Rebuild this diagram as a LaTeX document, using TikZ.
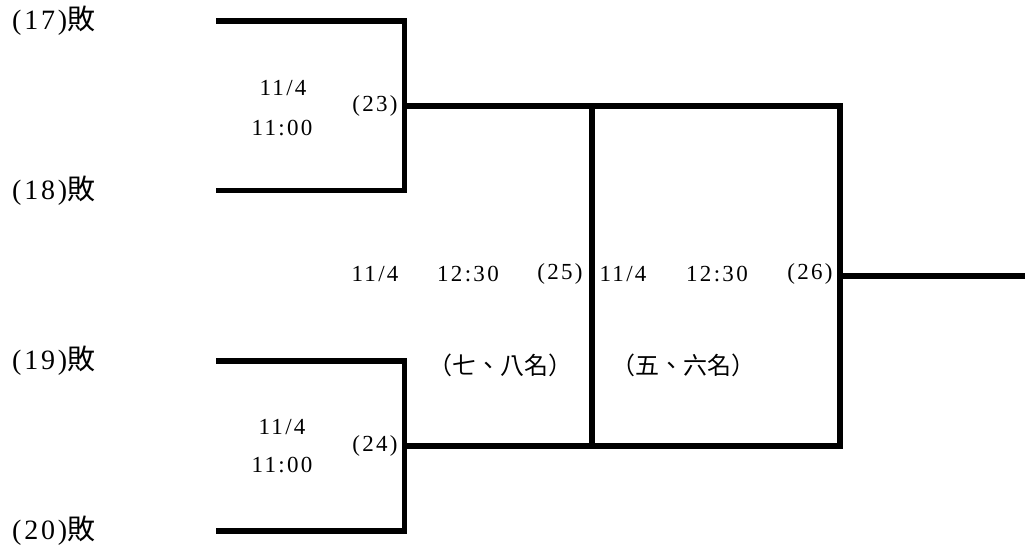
\documentclass[tikz,border=0pt]{standalone}
\usepackage{fontspec}
\setmainfont{Liberation Serif}[LetterSpace=10]
\newfontfamily\cjk{Noto Sans CJK TC}
\usetikzlibrary{positioning}
\tikzset{
  bline/.style={line width=5.5pt, line cap=rect, line join=miter},
  team/.style={anchor=west, inner sep=0pt, font=\fontsize{28}{30}\selectfont},
  info/.style={inner sep=0pt, font=\fontsize{23}{25}\selectfont},
  rank/.style={inner sep=0pt, font=\cjk\fontsize{24}{26}\selectfont},
  every picture/.style={line cap=round, line join=round}
}

\begin{document}
\begin{tikzpicture}[x=1pt,y=-1pt]
  \useasboundingbox (0,0) rectangle (1025,550);

  % teams
  \node[team] (l17) at (12,21) {(17)\cjk 敗};
  \node[team] (l18) at (12,190.5) {(18)\cjk 敗};
  \node[team] (l19) at (12,361) {(19)\cjk 敗};
  \node[team] (l20) at (12,531) {(20)\cjk 敗};

  % corners
  \coordinate (a17) at (219,21);
  \coordinate (a18) at (219,190.5);
  \coordinate (a19) at (219,361);
  \coordinate (a20) at (219,531);
  \coordinate (c23) at (404.5,106);
  \coordinate (c24) at (404.5,446);
  \coordinate (c25) at (592,276);
  \coordinate (c26) at (840,276);
  \coordinate (fin) at (1025,276);

  % game 23
  \draw[bline] (a17) -- (a17 -| c23) -- (a18 -| c23) -- (a18);
  \node[info] (d23) at (283,88) {11/4};
  \node[info] (t23) at (282,128) {11:00};
  \node[info] (n23) at (375,106) {(23)};

  % game 24
  \draw[bline] (a19) -- (a19 -| c24) -- (a20 -| c24) -- (a20);
  \node[info] (d24) at (282,427) {11/4};
  \node[info] (t24) at (282,465) {11:00};
  \node[info] (n24) at (375,446) {(24)};

  % games 25 and 26
  \draw[bline] (c23) -- (c23 -| c26) -- (c24 -| c26) -- (c24);
  \draw[bline] (c23 -| c25) -- (c24 -| c25);
  \draw[bline] (c26) -- (fin);
  \node[info] (d25) at (375,274) {11/4};
  \node[info] (t25) at (468,274) {12:30};
  \node[info] (n25) at (560,274) {(25)};
  \node[info] (d26) at (623,274) {11/4};
  \node[info] (t26) at (717,274) {12:30};
  \node[info] (n26) at (810,274) {(26)};
  \node[rank] (r25) at (500,365) {（七、八名）};
  \node[rank] (r26) at (683,365) {（五、六名）};
\end{tikzpicture}
\end{document}
